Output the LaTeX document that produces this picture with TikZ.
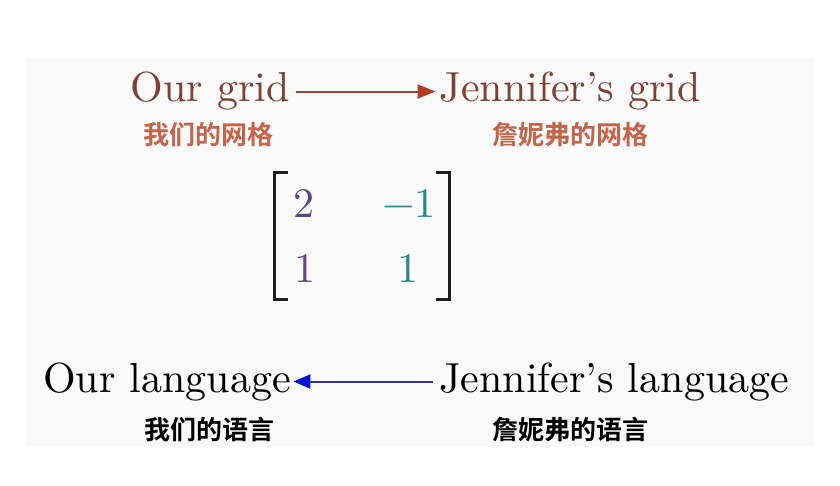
\documentclass[tikz,border=0pt]{standalone}
\usepackage{fontspec}
\setmainfont{lmroman10-regular}[Extension=.otf]
\newfontfamily\cjk{Noto Sans CJK SC}[BoldFont={* Bold}]
\usetikzlibrary{arrows.meta}
\definecolor{gridbrown}{RGB}{125,65,50}
\definecolor{gridcjk}{RGB}{195,100,75}
\definecolor{arrbrownline}{RGB}{150,70,50}
\definecolor{arrbrownhead}{RGB}{175,60,35}
\definecolor{arrblueline}{RGB}{50,50,150}
\definecolor{arrbluehead}{RGB}{0,20,210}
\definecolor{mpurple}{RGB}{95,70,130}
\definecolor{mteal}{RGB}{40,135,140}
\definecolor{bracketc}{RGB}{30,30,30}
\definecolor{bandc}{RGB}{250,250,250}
\tikzset{
  bigtxt/.style={inner sep=0pt, anchor=base west, font=\fontsize{42}{50}\selectfont},
  cjktxt/.style={inner sep=0pt, anchor=center, font=\cjk\bfseries\fontsize{26}{30}\selectfont},
  mentry/.style={inner sep=0pt, anchor=base, font=\fontsize{42}{50}\selectfont},
  bracketline/.style={line width=3pt, color=bracketc},
  toparrow/.style={line width=2pt, color=arrbrownline, -{Triangle[length=18pt,width=14pt,color=arrbrownhead]}},
  botarrow/.style={line width=2pt, color=arrblueline, -{Triangle[length=17pt,width=14pt,color=arrbluehead]}}
}
\begin{document}
\begin{tikzpicture}[x=1pt,y=-1pt]
\useasboundingbox (0,0) rectangle (840,486);
\fill[bandc] (25,58) rectangle (815,447);
% top row
\node[bigtxt, text=gridbrown] (og) at (130.5,102) {Our grid};
\node[bigtxt, text=gridbrown] (jg) at (439.5,102) {Jennifer’s grid};
\draw[toparrow, shorten <=6pt, shorten >=4pt] (og.east) -- (jg.west);
\node[cjktxt, text=gridcjk] (ogc) at (208,135) {我们的网格};
\node[cjktxt, text=gridcjk] (jgc) at (570,135) {詹妮弗的网格};
% matrix
\draw[bracketline] (288,173) -- (274,173) -- (274,299) -- (288,299);
\draw[bracketline] (436,173) -- (449,173) -- (449,299) -- (436,299);
\node[mentry, text=mpurple] (m11) at (304,218) {2};
\node[mentry, text=mteal] (m12) at (409,218) {−1};
\node[mentry, text=mpurple] (m21) at (305,282) {1};
\node[mentry, text=mteal] (m22) at (408,282) {1};
% bottom row
\node[bigtxt] (ol) at (43,392) {Our language};
\node[bigtxt] (jl) at (439,392) {Jennifer’s language};
\draw[botarrow, shorten <=6pt, shorten >=2.5pt] (jl.west) -- (ol.east);
\node[cjktxt] (olc) at (209,430) {我们的语言};
\node[cjktxt] (jlc) at (570,430) {詹妮弗的语言};
\end{tikzpicture}
\end{document}
